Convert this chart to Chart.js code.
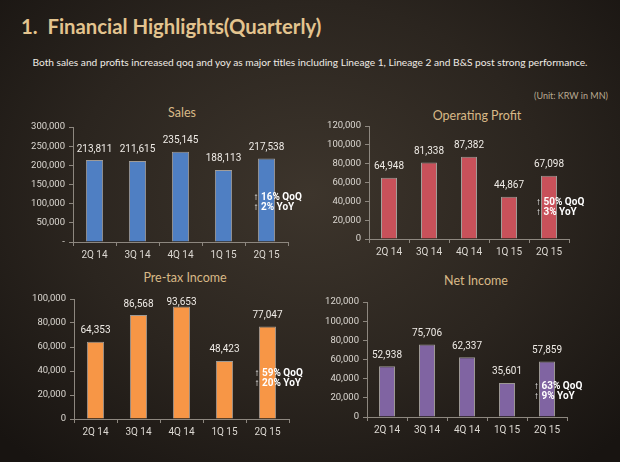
<!DOCTYPE html>
<html>
<head>
<meta charset="utf-8">
<script src="https://cdn.jsdelivr.net/npm/chart.js@4.4.1/dist/chart.umd.min.js"></script>
<style>
  body {
    margin: 0;
    width: 620px;
    height: 462px;
    overflow: hidden;
    position: relative;
    background: radial-gradient(ellipse 70% 75% at 50% 42%, #3d352c 0%, #2b251f 55%, #181411 100%);
    font-family: Lato, sans-serif;
  }
  .txt { position: absolute; white-space: pre; line-height: 1; }
  #title { left: 21px; top: 16px; font-size: 20.3px; font-weight: bold; color: #e3c48f; }
  #subtitle { left: 0; width: 620px; text-align: center; top: 57px; font-size: 10.2px; color: #efebe5; }
  #unit { right: 12px; top: 91px; font-size: 9px; color: #b9aa92; }
  .ctitle { position: absolute; width: 200px; text-align: center; font-size: 12.5px; color: #d8b987; line-height: 1; }
  canvas { position: absolute; }
</style>
</head>
<body>
<div id="title" class="txt">1.  Financial Highlights(Quarterly)</div>
<div id="subtitle" class="txt">Both sales and profits increased qoq and yoy as major titles including Lineage 1, Lineage 2 and B&amp;S post strong performance.</div>
<div id="unit" class="txt">(Unit: KRW in MN)</div>
<div class="ctitle" style="left:82px; top:107px;">Sales</div>
<div class="ctitle" style="left:377px; top:110px;">Operating Profit</div>
<div class="ctitle" style="left:85px; top:272px;">Pre-tax Income</div>
<div class="ctitle" style="left:376px; top:275px;">Net Income</div>
<canvas id="salesChart"></canvas>
<canvas id="opChart"></canvas>
<canvas id="preTaxChart"></canvas>
<canvas id="netChart"></canvas>
<script>
const quarters = ["2Q 14", "3Q 14", "4Q 14", "1Q 15", "2Q 15"];

const sales = [213811, 211615, 235145, 188113, 217538];
const operatingProfit = [64948, 81338, 87382, 44867, 67098];
const preTaxIncome = [64353, 86568, 93653, 48423, 77047];
const netIncome = [52938, 75706, 62337, 35601, 57859];

const salesNotes = ["↑ 16% QoQ", "↑ 2% YoY"];
const opNotes = ["↑ 50% QoQ", "↑ 3% YoY"];
const preTaxNotes = ["↑ 59% QoQ", "↑ 20% YoY"];
const netNotes = ["↑ 63% QoQ", "↑ 9% YoY"];

const axisColor = "#8d877f";
const tickColor = "#dcd8d2";

Chart.defaults.font.family = "Roboto";

// value labels above bars + growth note beside the last bar
const barLabels = {
  id: "barLabels",
  afterDatasetsDraw(chart, args, opts) {
    const ctx = chart.ctx;
    const meta = chart.getDatasetMeta(0);
    const values = chart.data.datasets[0].data;
    ctx.save();
    ctx.font = "10px Roboto";
    ctx.fillStyle = "#efebe6";
    ctx.textAlign = "center";
    ctx.textBaseline = "middle";
    meta.data.forEach((bar, i) => {
      const y = Math.max(bar.y - 11, chart.chartArea.top + 3);
      ctx.fillText(values[i].toLocaleString("en-US"), bar.x, y);
    });
    const last = meta.data[meta.data.length - 1];
    const y0 = chart.scales.y.getPixelForValue(opts.noteAt);
    ctx.font = "bold 10px Roboto";
    ctx.fillStyle = "#ffffff";
    ctx.textAlign = "left";
    opts.notes.forEach((line, i) => ctx.fillText(line, last.x - 13, y0 + i * 10));
    ctx.restore();
  },
};

function makeChart(id, box, area, values, color, yMax, yStep, notes, noteAt, dashZero) {
  const canvas = document.getElementById(id);
  canvas.width = box.w;
  canvas.height = box.h;
  canvas.style.left = box.x + "px";
  canvas.style.top = box.y + "px";

  return new Chart(canvas, {
    type: "bar",
    data: {
      labels: quarters,
      datasets: [
        {
          data: values,
          backgroundColor: color,
          borderColor: "rgba(235,232,228,0.6)",
          borderWidth: 1,
          categoryPercentage: 1,
          barPercentage: 0.4,
        },
      ],
    },
    options: {
      responsive: false,
      animation: false,
      layout: {
        padding: {
          left: 0,
          top: area.t - box.y,
          right: box.x + box.w - area.r,
          bottom: box.y + box.h - area.b - 20,
        },
      },
      plugins: {
        legend: { display: false },
        tooltip: { enabled: false },
        barLabels: { notes: notes, noteAt: noteAt },
      },
      scales: {
        x: {
          grid: { drawOnChartArea: false, color: axisColor, tickLength: 4 },
          border: { color: axisColor },
          ticks: { color: tickColor, font: { size: 10 }, padding: 3 },
          afterFit: (scale) => { scale.height = 20; },
        },
        y: {
          min: 0,
          max: yMax,
          grid: { drawOnChartArea: false, color: axisColor, tickLength: 4 },
          border: { color: axisColor },
          ticks: {
            stepSize: yStep,
            color: tickColor,
            font: { size: 9.5 },
            padding: 4,
            callback: (v) => (v === 0 && dashZero ? "-" : v.toLocaleString("en-US")),
          },
          afterFit: (scale) => { scale.width = area.l - box.x; },
        },
      },
    },
    plugins: [barLabels],
  });
}

makeChart("salesChart", { x: 0, y: 100, w: 305, h: 170 }, { l: 73, t: 127, r: 288, b: 242 },
  sales, "#4f7fc3", 300000, 50000, salesNotes, 117000, true);
makeChart("opChart", { x: 310, y: 100, w: 305, h: 170 }, { l: 369, t: 126, r: 569, b: 239 },
  operatingProfit, "#c8515a", 120000, 20000, opNotes, 38500, false);
makeChart("preTaxChart", { x: 0, y: 285, w: 305, h: 170 }, { l: 74, t: 299, r: 289, b: 419 },
  preTaxIncome, "#f79646", 100000, 20000, preTaxNotes, 38000, false);
makeChart("netChart", { x: 310, y: 288, w: 305, h: 170 }, { l: 367, t: 302, r: 567, b: 417 },
  netIncome, "#8064a2", 120000, 20000, netNotes, 31400, false);
</script>
</body>
</html>
